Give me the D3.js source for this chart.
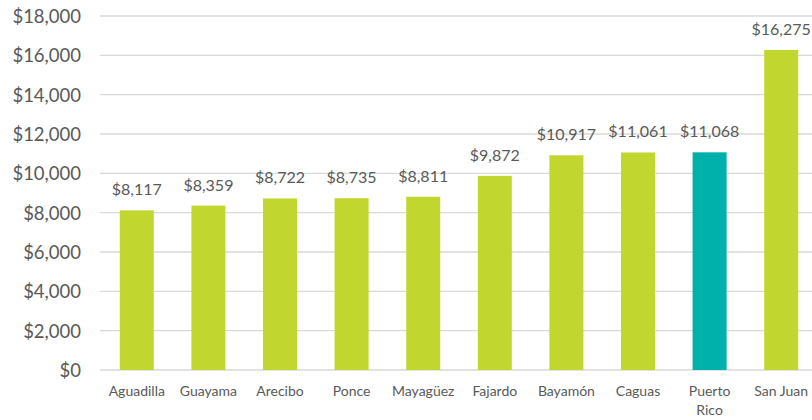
<!DOCTYPE html>
<html><head><meta charset="utf-8">
<script src="https://cdn.jsdelivr.net/npm/d3@7"></script>
<style>body{margin:0;background:#fff;}svg{display:block;}</style>
</head><body><svg id="c" width="812" height="420"></svg>
<script>
const categories = ["Aguadilla","Guayama","Arecibo","Ponce","Mayagüez","Fajardo","Bayamón","Caguas","Puerto Rico","San Juan"];
const values = [8117,8359,8722,8735,8811,9872,10917,11061,11068,16275];
const highlight = ["Puerto Rico"];
const yTicks = [0,2000,4000,6000,8000,10000,12000,14000,16000,18000];

const svg = d3.select("#c");
const font = "Lato, 'Open Sans', sans-serif";
const textColor = "#595959";
const x = d3.scaleBand().domain(categories).range([101, 817]).paddingInner(0.525).paddingOuter(0.2625);
const y = d3.scaleLinear().domain([0, 18000]).range([370, 16]);
const fmt = v => "$" + d3.format(",")(v);

// gridlines
svg.append("g").selectAll("line").data(yTicks).join("line")
  .attr("x1", 100).attr("x2", 812)
  .attr("y1", d => y(d)).attr("y2", d => y(d))
  .attr("stroke", "#d9d9d9").attr("stroke-width", 1.3);

// y axis labels
const yAxis = d3.axisLeft(y).tickValues(yTicks).tickFormat(fmt).tickSize(0).tickPadding(0);
const ga = svg.append("g").attr("transform", "translate(81,0)").call(yAxis);
ga.select(".domain").remove();
ga.selectAll("text").attr("font-family", font).attr("font-size", 18.5).attr("fill", textColor).attr("dy", "0.35em");

// bars
svg.append("g").selectAll("rect").data(categories).join("rect")
  .attr("x", d => x(d)).attr("width", x.bandwidth())
  .attr("y", (d,i) => y(values[i])).attr("height", (d,i) => y(0) - y(values[i]))
  .attr("fill", d => highlight.includes(d) ? "#00b0ab" : "#c1d72f");

// value labels
svg.append("g").selectAll("text").data(categories).join("text")
  .attr("x", d => x(d) + x.bandwidth()/2)
  .attr("y", (d,i) => y(values[i]) - 15)
  .attr("text-anchor", "middle")
  .attr("font-family", font).attr("font-size", 16).attr("fill", textColor)
  .text((d,i) => fmt(values[i]));

// category labels
const gx = svg.append("g").selectAll("text").data(categories).join("text")
  .attr("x", d => x(d) + x.bandwidth()/2)
  .attr("y", 396)
  .attr("text-anchor", "middle")
  .attr("font-family", font).attr("font-size", 14).attr("fill", textColor);
gx.each(function(d){
  const t = d3.select(this);
  const parts = d === "Puerto Rico" ? ["Puerto","Rico"] : [d];
  parts.forEach((p,i) => t.append("tspan").attr("x", x(d) + x.bandwidth()/2).attr("dy", i ? 19 : 0).text(p));
});
</script></body></html>
